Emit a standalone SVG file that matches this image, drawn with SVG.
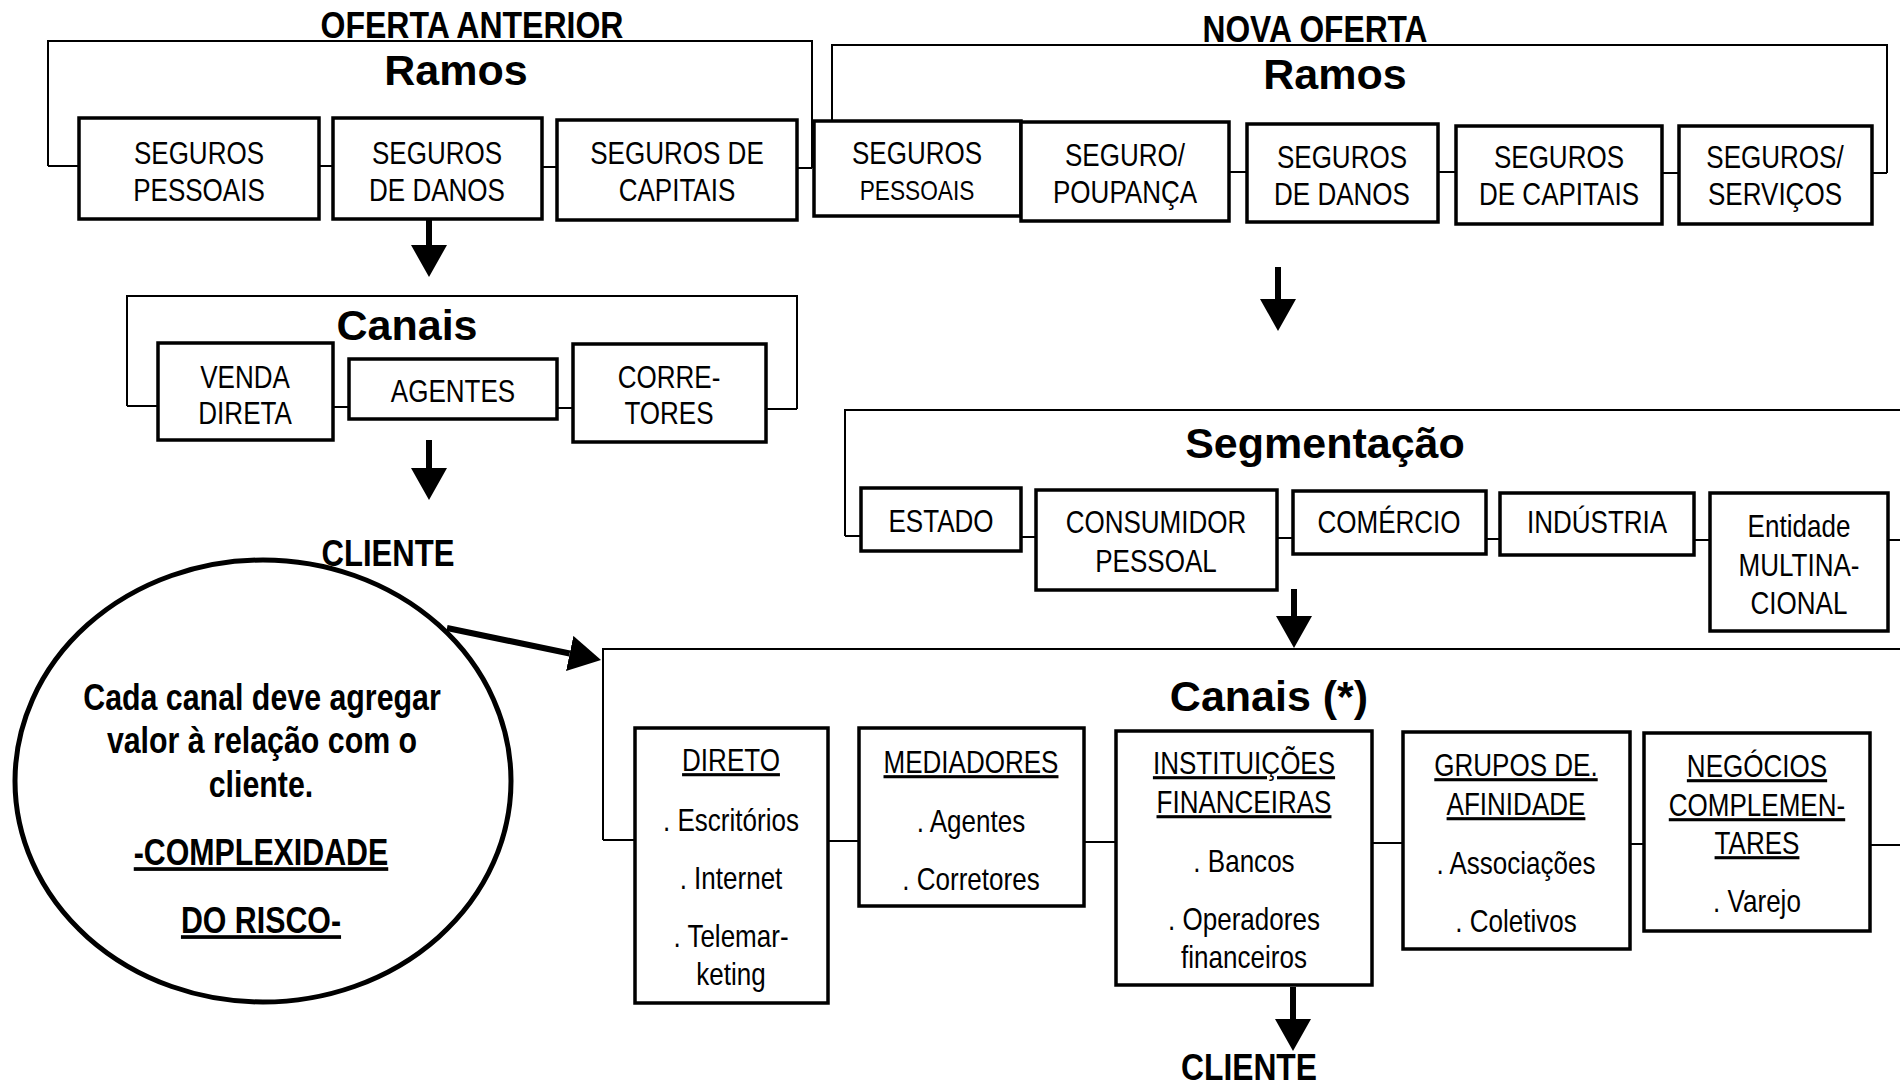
<svg xmlns="http://www.w3.org/2000/svg" width="1900" height="1086" viewBox="0 0 1900 1086">
<style>
.box{fill:#fff;stroke:#000;stroke-width:3.5}
.ln{fill:none;stroke:#000;stroke-width:2}
.sh{stroke:#000;stroke-width:6;fill:none}
.t{font-family:"Liberation Sans",Arial,sans-serif;font-size:31px;text-anchor:middle;fill:#000;transform-box:fill-box;transform-origin:center;transform:scaleX(0.84)}
.s{font-size:27px}
.u{text-decoration:underline}
.h{font-family:"Liberation Sans",Arial,sans-serif;font-weight:bold;font-size:43px;text-anchor:middle;fill:#000}
.ti{font-family:"Liberation Sans",Arial,sans-serif;font-weight:bold;font-size:37px;text-anchor:middle;fill:#000}
.c{font-family:"Liberation Sans",Arial,sans-serif;font-weight:bold;font-size:37px;text-anchor:middle;fill:#000;transform-box:fill-box;transform-origin:center;transform:scaleX(0.82)}
</style>
<defs>
<marker id="ah" viewBox="0 0 32 36" refX="0" refY="18" markerWidth="32" markerHeight="36" markerUnits="userSpaceOnUse" orient="auto">
<path d="M0,0 L32,18 L0,36 Z" fill="#000"/>
</marker>
</defs>
<rect width="1900" height="1086" fill="#fff"/>

<g id="connectors">
<path class="ln" d="M48,166 V41 H812 V168"/>
<path class="ln" d="M48,166 H79 M319,166 H333 M542,167 H557 M797,168 H812"/>
<path class="ln" d="M832,173 V45 H1887 V173"/>
<path class="ln" d="M1229,172 H1247 M1438,172 H1456 M1662,173 H1679 M1872,173 H1887"/>
<path class="ln" d="M127,406 V296 H797 V409"/>
<path class="ln" d="M127,406 H158 M333,407 H349 M557,408 H573 M766,409 H797"/>
<path class="ln" d="M845,536 V410 H1900"/>
<path class="ln" d="M845,536 H861 M1021,537 H1036 M1277,538 H1293 M1486,539 H1500 M1694,540 H1710 M1888,540 H1900"/>
<path class="ln" d="M603,840 V649 H1900"/>
<path class="ln" d="M603,840 H635 M828,841 H859 M1084,842 H1116 M1372,843 H1403 M1630,844 H1644 M1870,845 H1900"/>
<line class="sh" x1="429" y1="219" x2="429" y2="245" marker-end="url(#ah)"/>
<line class="sh" x1="429" y1="440" x2="429" y2="468" marker-end="url(#ah)"/>
<line class="sh" x1="1278" y1="267" x2="1278" y2="299" marker-end="url(#ah)"/>
<line class="sh" x1="1294" y1="589" x2="1294" y2="616" marker-end="url(#ah)"/>
<line class="sh" x1="1293" y1="987" x2="1293" y2="1019" marker-end="url(#ah)"/>
<line class="sh" x1="447" y1="628" x2="569.7" y2="653.5" marker-end="url(#ah)"/>
</g>

<g id="titles">
<text class="ti" x="472" y="38" textLength="303" lengthAdjust="spacingAndGlyphs">OFERTA ANTERIOR</text>
<text class="ti" x="1315" y="42" textLength="225" lengthAdjust="spacingAndGlyphs">NOVA OFERTA</text>
<text class="h" x="456" y="85">Ramos</text>
<text class="h" x="1335" y="89">Ramos</text>
<text class="h" x="407" y="340">Canais</text>
<text class="h" x="1325" y="458">Segmentação</text>
<text class="h" x="1269" y="711">Canais (*)</text>
</g>

<g id="nota">
<ellipse cx="263" cy="781" rx="248" ry="221" fill="#fff" stroke="#000" stroke-width="5"/>
<text class="c" x="262" y="710">Cada canal deve agregar</text>
<text class="c" x="262" y="753">valor à relação com o</text>
<text class="c" x="261" y="797">cliente.</text>
<text class="c u" x="261" y="865">-COMPLEXIDADE</text>
<text class="c u" x="261" y="933">DO RISCO-</text>
</g>

<g id="cliente-1"><text class="ti" x="388" y="566" textLength="133" lengthAdjust="spacingAndGlyphs">CLIENTE</text></g>
<g id="cliente-2"><text class="ti" x="1249" y="1080" textLength="136" lengthAdjust="spacingAndGlyphs">CLIENTE</text></g>

<g id="old-pessoais"><rect class="box" x="79" y="118" width="240" height="101"/><text class="t" x="199" y="164">SEGUROS</text><text class="t" x="199" y="201">PESSOAIS</text></g>
<g id="old-danos"><rect class="box" x="333" y="118" width="209" height="101"/><text class="t" x="437" y="164">SEGUROS</text><text class="t" x="437" y="201">DE DANOS</text></g>
<g id="old-capitais"><rect class="box" x="557" y="120" width="240" height="100"/><text class="t" x="677" y="164">SEGUROS DE</text><text class="t" x="677" y="201">CAPITAIS</text></g>

<g id="new-pessoais"><rect class="box" x="814" y="121" width="207" height="95"/><text class="t" x="917" y="164">SEGUROS</text><text class="t s" x="917" y="200">PESSOAIS</text></g>
<g id="new-poupanca"><rect class="box" x="1021" y="122" width="208" height="99"/><text class="t" x="1125" y="166">SEGURO/</text><text class="t" x="1125" y="203">POUPANÇA</text></g>
<g id="new-danos"><rect class="box" x="1247" y="124" width="191" height="98"/><text class="t" x="1342" y="168">SEGUROS</text><text class="t" x="1342" y="205">DE DANOS</text></g>
<g id="new-capitais"><rect class="box" x="1456" y="126" width="206" height="98"/><text class="t" x="1559" y="168">SEGUROS</text><text class="t" x="1559" y="205">DE CAPITAIS</text></g>
<g id="new-servicos"><rect class="box" x="1679" y="126" width="193" height="98"/><text class="t" x="1775" y="168">SEGUROS/</text><text class="t" x="1775" y="205">SERVIÇOS</text></g>

<g id="venda-direta"><rect class="box" x="158" y="343" width="175" height="97"/><text class="t" x="245" y="388">VENDA</text><text class="t" x="245" y="424">DIRETA</text></g>
<g id="agentes"><rect class="box" x="349" y="359" width="208" height="60"/><text class="t" x="453" y="402">AGENTES</text></g>
<g id="corretores"><rect class="box" x="573" y="344" width="193" height="98"/><text class="t" x="669" y="388">CORRE-</text><text class="t" x="669" y="424">TORES</text></g>

<g id="estado"><rect class="box" x="861" y="488" width="160" height="63"/><text class="t" x="941" y="532">ESTADO</text></g>
<g id="consumidor"><rect class="box" x="1036" y="490" width="241" height="100"/><text class="t" x="1156" y="533">CONSUMIDOR</text><text class="t" x="1156" y="572">PESSOAL</text></g>
<g id="comercio"><rect class="box" x="1293" y="491" width="193" height="63"/><text class="t" x="1389" y="533">COMÉRCIO</text></g>
<g id="industria"><rect class="box" x="1500" y="493" width="194" height="62"/><text class="t" x="1597" y="533">INDÚSTRIA</text></g>
<g id="multinacional"><rect class="box" x="1710" y="493" width="178" height="138"/><text class="t" x="1799" y="537">Entidade</text><text class="t" x="1799" y="576">MULTINA-</text><text class="t" x="1799" y="614">CIONAL</text></g>

<g id="direto"><rect class="box" x="635" y="728" width="193" height="275"/><text class="t u" x="731" y="771">DIRETO</text><text class="t" x="731" y="831">. Escritórios</text><text class="t" x="731" y="889">. Internet</text><text class="t" x="731" y="947">. Telemar-</text><text class="t" x="731" y="985">keting</text></g>
<g id="mediadores"><rect class="box" x="859" y="728" width="225" height="178"/><text class="t u" x="971" y="773">MEDIADORES</text><text class="t" x="971" y="832">. Agentes</text><text class="t" x="971" y="890">. Corretores</text></g>
<g id="instituicoes"><rect class="box" x="1116" y="731" width="256" height="254"/><text class="t u" x="1244" y="774">INSTITUIÇÕES</text><text class="t u" x="1244" y="813">FINANCEIRAS</text><text class="t" x="1244" y="872">. Bancos</text><text class="t" x="1244" y="930">. Operadores</text><text class="t" x="1244" y="968">financeiros</text></g>
<g id="grupos"><rect class="box" x="1403" y="732" width="227" height="217"/><text class="t u" x="1516" y="776">GRUPOS DE.</text><text class="t u" x="1516" y="815">AFINIDADE</text><text class="t" x="1516" y="874">. Associações</text><text class="t" x="1516" y="932">. Coletivos</text></g>
<g id="negocios"><rect class="box" x="1644" y="733" width="226" height="198"/><text class="t u" x="1757" y="777">NEGÓCIOS</text><text class="t u" x="1757" y="816">COMPLEMEN-</text><text class="t u" x="1757" y="854">TARES</text><text class="t" x="1757" y="912">. Varejo</text></g>
</svg>
